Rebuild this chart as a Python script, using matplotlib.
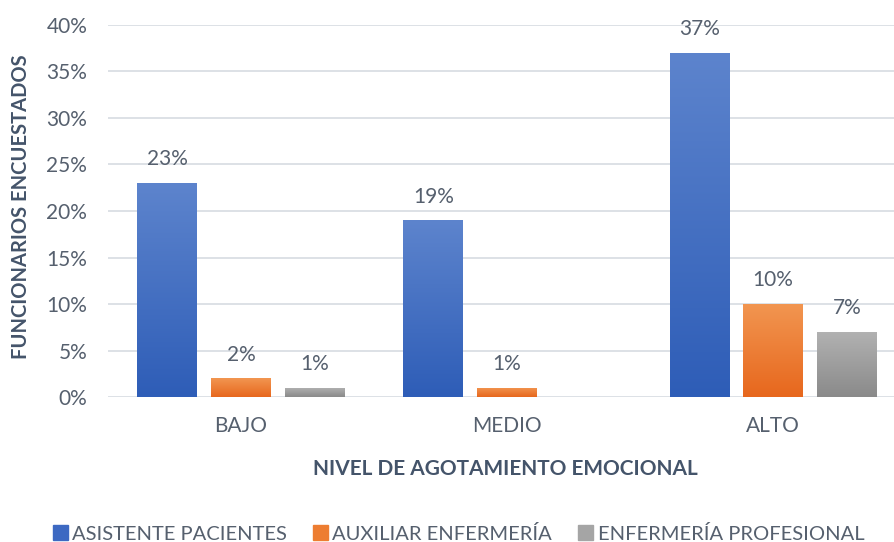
import numpy as np
import matplotlib.pyplot as plt
from matplotlib.colors import LinearSegmentedColormap

categories = ['BAJO', 'MEDIO', 'ALTO']
series = ['ASISTENTE PACIENTES', 'AUXILIAR ENFERMERÍA', 'ENFERMERÍA PROFESIONAL']
asistente = [0.23, 0.19, 0.37]
auxiliar = [0.02, 0.01, 0.10]
profesional = [0.01, 0.0, 0.07]
values = [asistente, auxiliar, profesional]

# (top colour, bottom colour) per series
grads = [('#5d84cd', '#2e5db7'), ('#f29651', '#e7671d'), ('#b2b2b2', '#8a8a8a')]
solid = ['#3d69c2', '#ed7d31', '#a5a5a5']

plt.rcParams['font.family'] = ['Lato', 'DejaVu Sans']
txt = '#56606e'
lab = '#44546a'

fig = plt.figure(figsize=(8.94, 5.42), dpi=100)
ax = fig.add_axes([0.1208, 0.2675, 0.8792, 0.6864])

x = np.arange(len(categories))
width = 0.225
offset = 0.277

for i, vals in enumerate(values):
    cmap = LinearSegmentedColormap.from_list('g%d' % i, [grads[i][1], grads[i][0]])
    grad = np.linspace(0, 1, 256).reshape(-1, 1)
    for j, v in enumerate(vals):
        xc = x[j] + (i - 1) * offset
        bar = ax.bar(xc, v, width, color=solid[i], zorder=2)[0]
        if v > 0:
            im = ax.imshow(grad, cmap=cmap, origin='lower', aspect='auto',
                           extent=[xc - width / 2, xc + width / 2, 0, v], zorder=3)
            im.set_clip_path(bar)
            ax.text(xc, v + 0.019, '%d%%' % round(v * 100), ha='center', va='baseline',
                    fontsize=15, color=txt, zorder=4)

ax.set_xlim(-0.5, 2.454)
ax.set_ylim(0, 0.40)
yt = np.arange(0, 0.41, 0.05)
ax.set_yticks(yt)
ax.set_yticklabels(['%d%%' % round(t * 100) for t in yt])
ax.set_xticks(x)
ax.set_xticklabels(categories)
ax.tick_params(axis='both', length=0, labelsize=15, colors=txt)
ax.tick_params(axis='x', pad=14)
ax.tick_params(axis='y', pad=15)
ax.grid(axis='y', color='#dadee4', lw=1.3, zorder=0)
ax.set_axisbelow(True)
for s in ax.spines.values():
    s.set_visible(False)

fig.text(0.024, 0.618, 'FUNCIONARIOS ENCUESTADOS', rotation=90, ha='center', va='center',
         fontsize=14.5, fontweight='bold', color=lab)
fig.text(0.565, 0.135, 'NIVEL DE AGOTAMIENTO EMOCIONAL', ha='center', va='center',
         fontsize=15, fontweight='bold', color=lab)

handles = [plt.Rectangle((0, 0), 1, 1, color=c) for c in solid]
fig.legend(handles, series, loc='center', bbox_to_anchor=(0.513, 0.015), ncol=3,
           frameon=False, fontsize=14.5, labelcolor=txt, handlelength=0.75, handleheight=0.75,
           handletextpad=0.2, columnspacing=1.3, borderpad=0)

fig.savefig('out.png', dpi=100)
